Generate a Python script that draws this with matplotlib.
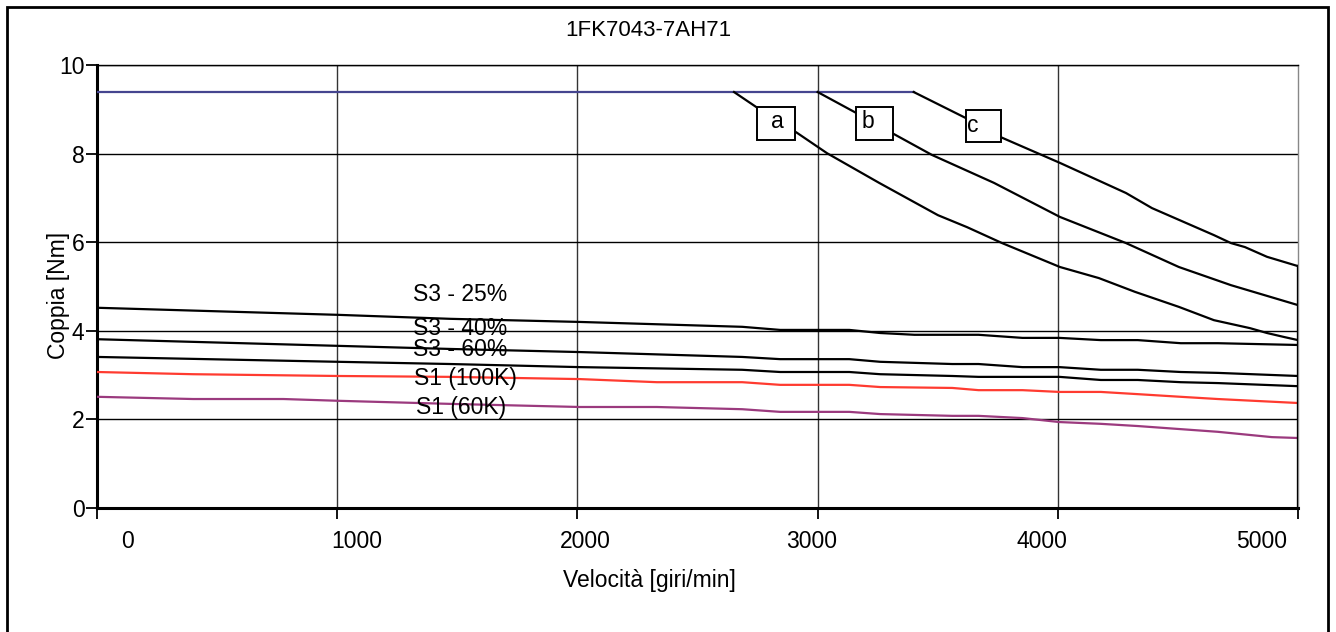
import matplotlib.pyplot as plt
from matplotlib.patches import Rectangle

plt.rcParams['font.family'] = ['Liberation Sans', 'DejaVu Sans']

TITLE = "1FK7043-7AH71"
X_LABEL = "Velocità [giri/min]"
Y_LABEL = "Coppia [Nm]"

x_ticks = [0, 1000, 2000, 3000, 4000, 5000]
x_tick_labels = ["0", "1000", "2000", "3000", "4000", "5000"]
y_ticks = [0, 2, 4, 6, 8, 10]

# max torque plateau (blue)
plateau_speed = [0, 3400]
plateau_torque = [9.39, 9.39]

# voltage limit curves a, b, c
a_speed = [2652, 2764, 2914, 3039, 3256, 3501, 3622, 3768, 4009, 4171, 4321, 4504, 4650, 4800, 4871, 4942, 5000]
a_torque = [9.39, 8.98, 8.47, 8.01, 7.34, 6.61, 6.34, 5.98, 5.44, 5.19, 4.88, 4.54, 4.24, 4.06, 3.95, 3.86, 3.79]

b_speed = [3000, 3160, 3318, 3476, 3734, 4009, 4284, 4504, 4721, 5000]
b_torque = [9.39, 8.92, 8.44, 7.97, 7.34, 6.57, 5.98, 5.44, 5.03, 4.58]

c_speed = [3400, 3618, 3763, 4009, 4284, 4392, 4650, 4721, 4779, 4871, 5000]
c_torque = [9.39, 8.80, 8.37, 7.79, 7.11, 6.77, 6.16, 5.98, 5.89, 5.67, 5.46]

# duty cycle curves
s3_25_speed = [0, 1005, 1472, 2010, 2686, 2844, 3132, 3261, 3403, 3670, 3853, 4007, 4179, 4333, 4512, 4666, 5000]
s3_25_torque = [4.52, 4.36, 4.27, 4.20, 4.09, 4.02, 4.02, 3.95, 3.91, 3.91, 3.84, 3.84, 3.79, 3.79, 3.72, 3.72, 3.68]

s3_40_speed = [0, 1005, 1472, 2010, 2686, 2844, 3132, 3261, 3561, 3670, 3853, 4007, 4179, 4333, 4512, 4666, 5000]
s3_40_torque = [3.81, 3.66, 3.59, 3.52, 3.41, 3.36, 3.36, 3.30, 3.25, 3.25, 3.18, 3.18, 3.12, 3.12, 3.07, 3.05, 2.98]

s3_60_speed = [0, 1005, 1472, 2010, 2686, 2844, 3132, 3261, 3561, 3670, 4007, 4179, 4333, 4512, 4666, 5000]
s3_60_torque = [3.41, 3.30, 3.25, 3.18, 3.12, 3.07, 3.07, 3.02, 2.98, 2.96, 2.96, 2.89, 2.89, 2.84, 2.82, 2.75]

s1_100k_speed = [0, 400, 1005, 1472, 2010, 2331, 2686, 2844, 3132, 3261, 3561, 3670, 3853, 4007, 4179, 4333, 4512, 4666, 5000]
s1_100k_torque = [3.07, 3.02, 2.98, 2.96, 2.91, 2.84, 2.84, 2.78, 2.78, 2.73, 2.71, 2.66, 2.66, 2.62, 2.62, 2.57, 2.51, 2.46, 2.37]

s1_60k_speed = [0, 400, 776, 1005, 1472, 2010, 2331, 2686, 2844, 3132, 3261, 3561, 3670, 3853, 4007, 4179, 4333, 4512, 4666, 4891, 5000]
s1_60k_torque = [2.51, 2.46, 2.46, 2.42, 2.35, 2.28, 2.28, 2.23, 2.17, 2.17, 2.12, 2.08, 2.08, 2.03, 1.94, 1.90, 1.85, 1.78, 1.72, 1.60, 1.58]

curve_labels = ["S3 - 25%", "S3 - 40%", "S3 - 60%", "S1 (100K)", "S1 (60K)"]
limit_labels = ["a", "b", "c"]

# --- layout (positions only) ---
label_x_pos = [125, 1082, 2032, 2977, 3934, 4850]  # tick labels sit off the grid in the original
curve_label_pos = [(1511, 4.81), (1511, 4.06), (1511, 3.57), (1532, 2.93), (1515, 2.26)]
# (x0, x1, y0, y1, text_x, text_y)
limit_boxes = [
    (2748, 2906, 8.31, 9.05, 2831, 8.72),
    (3160, 3314, 8.31, 9.05, 3210, 8.72),
    (3618, 3763, 8.26, 8.98, 3647, 8.64),
]

FS = 16.5
LW = 1.6

fig = plt.figure(figsize=(13.36, 6.32), dpi=100)
ax = fig.add_axes([97 / 1336, 1 - 508 / 632, (1298 - 97) / 1336, (508 - 65) / 632])
ax.set_xlim(0, 5000)
ax.set_ylim(0, 10)

# grid
for x in x_ticks[1:-1]:
    ax.axvline(x, color='#333333', lw=1.0, zorder=1)
for y in y_ticks[1:]:
    ax.axhline(y, color='black', lw=1.0, zorder=1)

ax.plot(plateau_speed, plateau_torque, color='#45458f', lw=LW, zorder=3)
for sp, tq in [(a_speed, a_torque), (b_speed, b_torque), (c_speed, c_torque)]:
    ax.plot(sp, tq, color='black', lw=LW, zorder=3)

ax.plot(s3_25_speed, s3_25_torque, color='black', lw=LW, zorder=3)
ax.plot(s3_40_speed, s3_40_torque, color='black', lw=LW, zorder=3)
ax.plot(s3_60_speed, s3_60_torque, color='black', lw=LW, zorder=3)
ax.plot(s1_100k_speed, s1_100k_torque, color='#ff3b30', lw=LW, zorder=3)
ax.plot(s1_60k_speed, s1_60k_torque, color='#9b3a7e', lw=LW, zorder=3)

# vertical drop at max speed
ax.plot([c_speed[-1], c_speed[-1]], [0, c_torque[-1]], color='black', lw=2.4, zorder=4)

for txt, (x, y) in zip(curve_labels, curve_label_pos):
    ax.text(x, y, txt, ha='center', va='center', fontsize=FS, zorder=5)

for txt, (x0, x1, y0, y1, tx, ty) in zip(limit_labels, limit_boxes):
    ax.add_patch(Rectangle((x0, y0), x1 - x0, y1 - y0, facecolor='white',
                           edgecolor='black', lw=1.4, zorder=6))
    ax.text(tx, ty, txt, ha='center', va='center', fontsize=FS, zorder=7)

# axes styling
ax.spines['left'].set_linewidth(2.2)
ax.spines['bottom'].set_linewidth(2.2)
ax.spines['top'].set_linewidth(1)
ax.spines['right'].set_linewidth(1)
ax.spines['right'].set_color('#888888')

ax.set_xticks(x_ticks)
ax.set_xticklabels([''] * len(x_ticks))
ax.set_xticks(label_x_pos, x_tick_labels, minor=True)
ax.tick_params(axis='x', which='major', direction='out', length=8, width=1.3)
ax.tick_params(axis='x', which='minor', length=0, pad=16, labelsize=FS)
ax.set_yticks(y_ticks)
ax.set_yticklabels([str(v) for v in y_ticks])
ax.tick_params(axis='y', direction='out', length=8, width=1.3, pad=1, labelsize=FS)

fig.text(648 / 1336, 1 - 30 / 632, TITLE, ha='center', va='center', fontsize=FS - 0.5)
fig.text(649 / 1336, 1 - 580 / 632, X_LABEL, ha='center', va='center', fontsize=FS)
fig.text(59 / 1336, 1 - 295 / 632, Y_LABEL, ha='center', va='center', rotation=90, fontsize=FS)

# outer frame
fig.patches.append(Rectangle((7 / 1336, -0.02), (1328 - 7) / 1336, 1.02 - 7 / 632,
                             transform=fig.transFigure, fill=False,
                             edgecolor='black', lw=2))

fig.savefig('out.png', dpi=100)
